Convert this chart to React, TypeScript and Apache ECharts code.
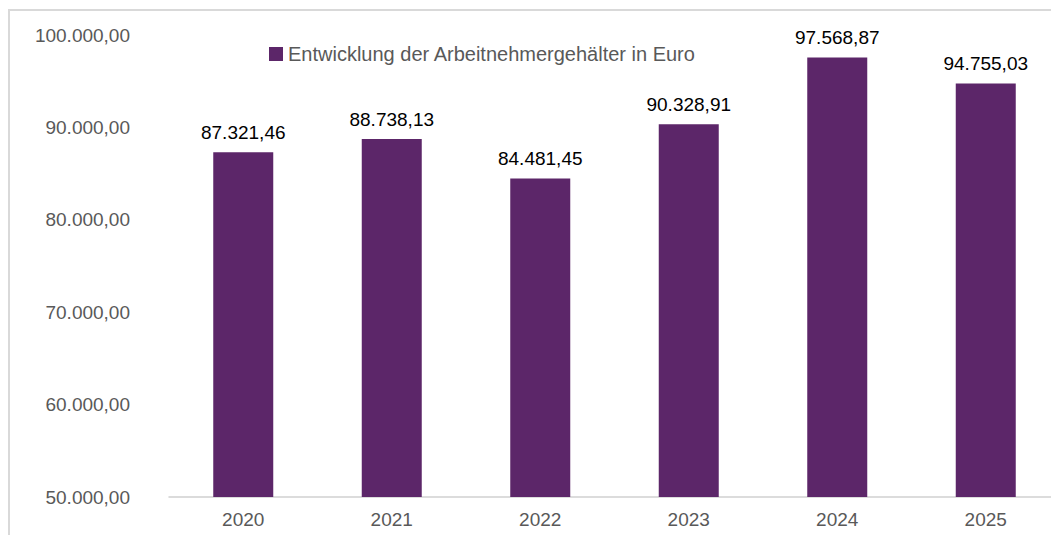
import React, { useEffect, useRef } from "react";
import * as echarts from "echarts";

const categories = ["2020", "2021", "2022", "2023", "2024", "2025"];
const values = [87321.46, 88738.13, 84481.45, 90328.91, 97568.87, 94755.03];
const seriesName = "Entwicklung der Arbeitnehmergehälter in Euro";
const yMin = 50000;
const yMax = 100000;
const yInterval = 10000;

function fmtDE(v: number): string {
  const fixed = Math.abs(v).toFixed(2);
  const [intPart, dec] = fixed.split(".");
  const withDots = intPart.replace(/\B(?=(\d{3})+(?!\d))/g, ".");
  return (v < 0 ? "-" : "") + withDots + "," + dec;
}

export default function App() {
  const ref = useRef<HTMLDivElement>(null);
  useEffect(() => {
    if (!ref.current) return;
    const chart = echarts.init(ref.current, null, { renderer: "svg" });
    const font = "'Liberation Sans', Arial, Helvetica, sans-serif";
    chart.setOption({
      animation: false,
      backgroundColor: "#ffffff",
      textStyle: { fontFamily: font },
      graphic: [
        {
          type: "rect",
          shape: { x: 9, y: 10, width: 1200, height: 700 },
          style: { fill: "none", stroke: "#d9d9d9", lineWidth: 2 },
          silent: true,
        },
      ],
      legend: {
        left: 264,
        top: 39,
        itemWidth: 14,
        itemHeight: 14,
        icon: "rect",
        textStyle: { fontSize: 20, color: "#595959", fontFamily: font },
        data: [seriesName],
      },
      grid: { left: 169, top: 35, right: 0, bottom: 38, containLabel: false },
      xAxis: {
        type: "category",
        data: categories,
        axisLine: { lineStyle: { color: "#d0d0d0", width: 1.5 } },
        axisTick: { show: false },
        axisLabel: { fontSize: 19, color: "#595959", margin: 13, fontFamily: font },
      },
      yAxis: {
        type: "value",
        min: yMin,
        max: yMax,
        interval: yInterval,
        axisLine: { show: false },
        axisTick: { show: false },
        splitLine: { show: false },
        axisLabel: {
          fontSize: 19,
          color: "#595959",
          margin: 39,
          fontFamily: font,
          formatter: (v: number) => fmtDE(v),
        },
      },
      series: [
        {
          name: seriesName,
          type: "bar",
          data: values,
          barWidth: 60,
          itemStyle: { color: "#5c2669" },
          label: {
            show: true,
            position: "top",
            distance: 10,
            fontSize: 19,
            color: "#000000",
            fontFamily: font,
            formatter: (p: any) => fmtDE(p.value),
          },
        },
      ],
    });
    return () => chart.dispose();
  }, []);
  return (
    <div
      ref={ref}
      style={{ position: "fixed", left: 0, top: 0, width: 1060, height: 535 }}
    />
  );
}
